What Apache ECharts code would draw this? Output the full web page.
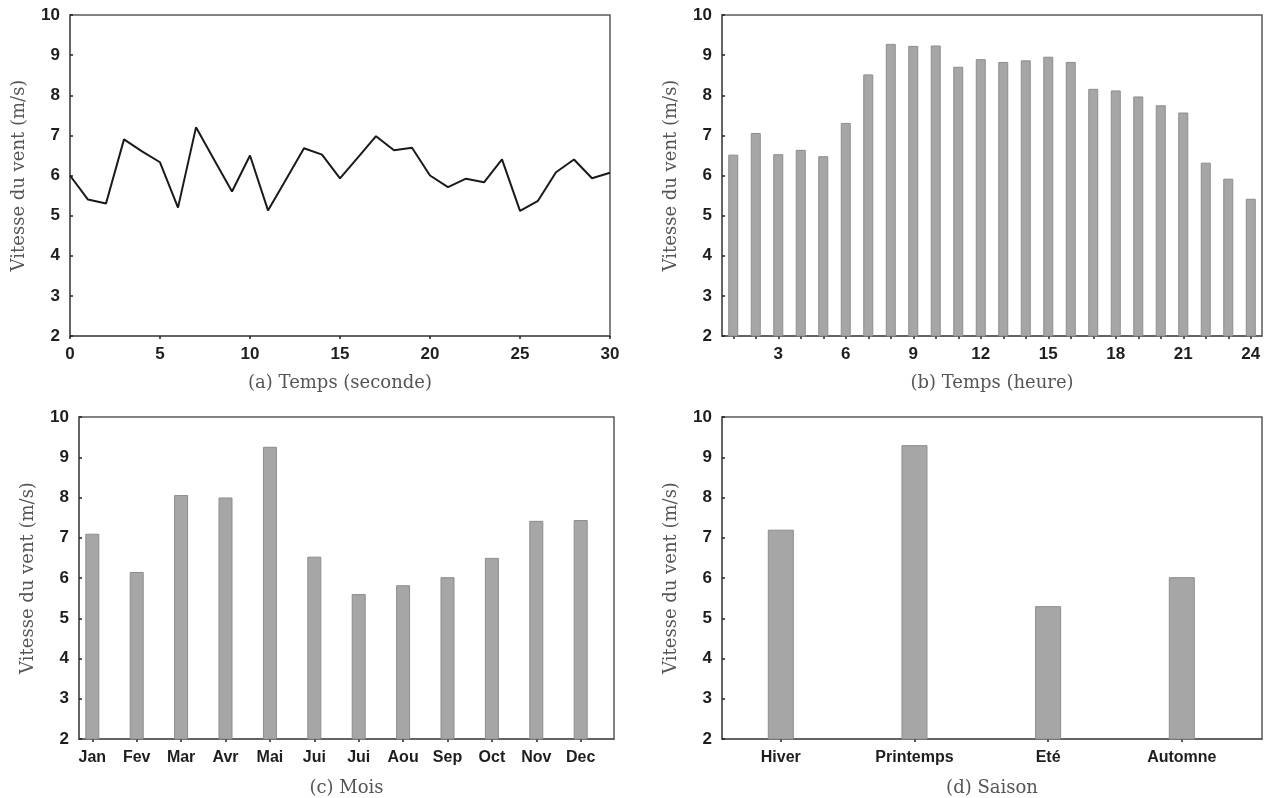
<!DOCTYPE html>
<html>
<head>
<meta charset="utf-8">
<script src="https://cdn.jsdelivr.net/npm/echarts@6/dist/echarts.min.js"></script>
<style>
  html, body { margin: 0; padding: 0; background: #fff; }
  #chart { width: 1264px; height: 798px; }
</style>
</head>
<body>
<div id="chart"></div>
<script>
  // (a) vitesse du vent par seconde
  var secondes = [0,1,2,3,4,5,6,7,8,9,10,11,12,13,14,15,16,17,18,19,20,21,22,23,24,25,26,27,28,29,30];
  var vitesseSeconde = [6.0,5.4,5.3,6.9,6.6,6.33,5.2,7.2,6.4,5.6,6.5,5.13,5.9,6.68,6.52,5.93,6.45,6.98,6.63,6.69,6.0,5.71,5.92,5.83,6.4,5.12,5.37,6.08,6.4,5.93,6.07];

  // (b) vitesse moyenne horaire
  var heures = ['1','2','3','4','5','6','7','8','9','10','11','12','13','14','15','16','17','18','19','20','21','22','23','24'];
  var vitesseHeure = [6.52,7.06,6.53,6.64,6.48,7.31,8.52,9.28,9.23,9.24,8.71,8.9,8.83,8.87,8.96,8.83,8.16,8.12,7.97,7.75,7.57,6.32,5.92,5.42];

  // (c) vitesse moyenne mensuelle
  var mois = ['Jan','Fev','Mar','Avr','Mai','Jui','Jui','Aou','Sep','Oct','Nov','Dec'];
  var vitesseMois = [7.1,6.15,8.06,8.0,9.26,6.53,5.6,5.82,6.02,6.5,7.42,7.44];

  // (d) vitesse moyenne saisonniere
  var saisons = ['Hiver','Printemps','Eté','Automne'];
  var vitesseSaison = [7.2,9.3,5.3,6.02];

  var axisColor = '#5a5a5a';
  var barColor = '#a6a6a6';
  var tickFont = {color:'#1e1e1e', fontFamily:'Liberation Sans', fontWeight:'bold', fontSize:17};
  var nameFont = {color:'#555', fontFamily:'DejaVu Serif', fontSize:18};

  function grid(left, top, width, height){
    return {left:left, top:top, width:width, height:height, show:true,
      borderColor:axisColor, borderWidth:1.5, backgroundColor:'transparent'};
  }

  function yAxis(idx){
    return {
      gridIndex: idx,
      type: 'value',
      min: 2, max: 10, interval: 1,
      name: 'Vitesse du vent (m/s)',
      nameLocation: 'middle',
      nameGap: 42,
      nameTextStyle: nameFont,
      axisLine: {show:true, onZero:false, lineStyle:{color:axisColor, width:1.5}},
      axisTick: {show:true, inside:true, length:3, lineStyle:{color:'#222', width:1.5}},
      axisLabel: Object.assign({margin:10}, tickFont),
      splitLine: {show:false}
    };
  }

  var idxMois = mois.map(function(m, i){ return i; });
  var idxSaison = saisons.map(function(s, i){ return i; });

  var chart = echarts.init(document.getElementById('chart'));
  var option = {
    animation: false,
    backgroundColor: '#fff',
    grid: [
      grid(70, 15, 540, 321),
      grid(722, 15, 540, 321),
      grid(79, 417, 535, 322),
      grid(722, 417, 540, 322)
    ],
    xAxis: [
      {
        gridIndex: 0,
        type: 'value',
        min: 0, max: 30, interval: 5,
        name: '(a) Temps (seconde)',
        nameLocation: 'middle',
        nameGap: 38,
        nameTextStyle: nameFont,
        axisLine: {show:true, onZero:false, lineStyle:{color:axisColor, width:1.5}},
        axisTick: {show:true, length:3, lineStyle:{color:'#222', width:1.5}},
        axisLabel: Object.assign({margin:10}, tickFont),
        splitLine: {show:false}
      },
      {
        gridIndex: 1,
        type: 'category',
        data: heures,
        name: '(b) Temps (heure)',
        nameLocation: 'middle',
        nameGap: 38,
        nameTextStyle: nameFont,
        axisLine: {show:true, onZero:false, lineStyle:{color:axisColor, width:1.5}},
        axisTick: {show:true, alignWithLabel:true, interval:0, length:3, lineStyle:{color:'#222', width:1.5}},
        axisLabel: Object.assign({margin:10, interval: function(i){ return (i + 1) % 3 === 0; }}, tickFont),
        splitLine: {show:false}
      },
      {
        gridIndex: 2,
        type: 'value',
        min: -0.3, max: 11.75,
        name: '(c) Mois',
        nameLocation: 'middle',
        nameGap: 40,
        nameTextStyle: nameFont,
        axisLine: {show:true, onZero:false, lineStyle:{color:axisColor, width:1.5}},
        axisTick: {show:true, length:3, customValues: idxMois, lineStyle:{color:'#222', width:1.5}},
        axisLabel: Object.assign({margin:11, customValues: idxMois,
          formatter: function(v){ return mois[Math.round(v)]; }}, tickFont, {fontSize:16}),
        splitLine: {show:false}
      },
      {
        gridIndex: 3,
        type: 'value',
        min: -0.44, max: 3.6,
        name: '(d) Saison',
        nameLocation: 'middle',
        nameGap: 40,
        nameTextStyle: nameFont,
        axisLine: {show:true, onZero:false, lineStyle:{color:axisColor, width:1.5}},
        axisTick: {show:true, length:3, customValues: idxSaison, lineStyle:{color:'#222', width:1.5}},
        axisLabel: Object.assign({margin:11, customValues: idxSaison,
          formatter: function(v){ return saisons[Math.round(v)]; }}, tickFont, {fontSize:16}),
        splitLine: {show:false}
      }
    ],
    yAxis: [yAxis(0), yAxis(1), yAxis(2), yAxis(3)],
    series: [
      {
        type: 'line',
        xAxisIndex: 0, yAxisIndex: 0,
        data: secondes.map(function(s, i){ return [s, vitesseSeconde[i]]; }),
        showSymbol: false,
        lineStyle: {color:'#1a1a1a', width:2}
      },
      {
        type: 'bar',
        xAxisIndex: 1, yAxisIndex: 1,
        data: vitesseHeure,
        barWidth: 10,
        itemStyle: {color:barColor, borderColor:'#8c8c8c', borderWidth:1}
      },
      {
        type: 'bar',
        xAxisIndex: 2, yAxisIndex: 2,
        data: vitesseMois.map(function(v, i){ return [i, v]; }),
        barWidth: 14,
        itemStyle: {color:barColor, borderColor:'#8c8c8c', borderWidth:1}
      },
      {
        type: 'bar',
        xAxisIndex: 3, yAxisIndex: 3,
        data: vitesseSaison.map(function(v, i){ return [i, v]; }),
        barWidth: 26,
        itemStyle: {color:barColor, borderColor:'#8c8c8c', borderWidth:1}
      }
    ]
  };
  chart.setOption(option);
</script>
</body>
</html>
